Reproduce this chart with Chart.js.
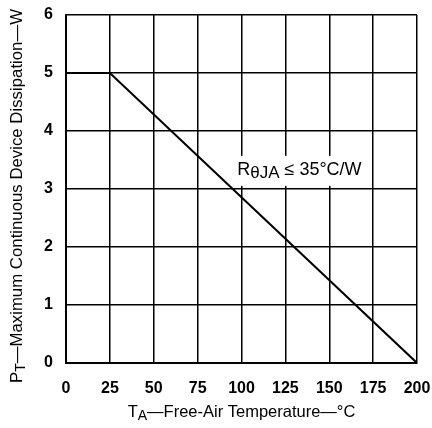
<!DOCTYPE html>
<html>
<head>
<meta charset="utf-8">
<script src="https://cdn.jsdelivr.net/npm/chart.js@4.4.1/dist/chart.umd.min.js"></script>
<style>
  html, body { margin: 0; padding: 0; background: #fff; }
  #wrap { width: 432px; height: 428px; }
</style>
</head>
<body>
<div id="wrap"><canvas id="myChart"></canvas></div>
<script>
// data
const tempC = [0, 25, 200];
const powerW = [5, 5, 0];
const xTicks = [0, 25, 50, 75, 100, 125, 150, 175, 200];
const yTicks = [0, 1, 2, 3, 4, 5, 6];

const FONT = "'Liberation Sans', Arial, sans-serif";

// draw text with a subscript part: parts = [[text, isSub], ...]
function drawParts(ctx, parts, size, x, y, align, subScale, subShift) {
  const subSize = Math.round(size * subScale);
  let total = partsWidth(ctx, parts, size, subScale);
  let cx = align === "center" ? x - total / 2 : x;
  parts.forEach(([t, sub]) => {
    ctx.font = `${sub ? subSize : size}px ${FONT}`;
    ctx.fillText(t, cx, sub ? y + subShift : y);
    cx += ctx.measureText(t).width;
  });
  return total;
}

function partsWidth(ctx, parts, size, subScale) {
  let w = 0;
  parts.forEach(([t, sub]) => {
    ctx.font = `${sub ? Math.round(size * subScale) : size}px ${FONT}`;
    w += ctx.measureText(t).width;
  });
  return w;
}

const labelsPlugin = {
  id: "labels",
  afterDraw(c) {
    const { ctx, chartArea, scales } = c;
    ctx.save();
    ctx.textBaseline = "middle";

    // annotation with white box behind it
    const ax = scales.x.getPixelForValue(133);
    const ay = scales.y.getPixelForValue(3.33);
    const parts = [["R", false], ["θJA", true], [" ≤ 35°C/W", false]];
    const w = partsWidth(ctx, parts, 18, 0.92);
    ctx.fillStyle = "#fff";
    ctx.fillRect(ax - w / 2 - 4, ay - 14, w + 8, 30);
    ctx.fillStyle = "#000";
    drawParts(ctx, parts, 18, ax, ay, "center", 0.92, 3);

    // x title
    const midX = (chartArea.left + chartArea.right) / 2;
    drawParts(ctx, [["T", false], ["A", true], ["—Free-Air Temperature—°C", false]], 16.5, midX, 412, "center", 0.85, 4);

    // y title, rotated
    ctx.translate(17, 196);
    ctx.rotate(-Math.PI / 2);
    drawParts(ctx, [["P", false], ["T", true], ["—Maximum Continuous Device Dissipation—W", false]], 16.8, 0, 0, "center", 0.85, 4);
    ctx.restore();
  }
};

new Chart(document.getElementById("myChart"), {
  type: "line",
  data: {
    datasets: [{
      data: tempC.map((t, i) => ({ x: t, y: powerW[i] })),
      borderColor: "#000",
      borderWidth: 2,
      pointRadius: 0,
      tension: 0,
      fill: false,
    }],
  },
  options: {
    responsive: true,
    maintainAspectRatio: false,
    animation: false,
    layout: { padding: { top: 15, right: 15, left: 0, bottom: 0 } },
    plugins: { legend: { display: false }, tooltip: { enabled: false } },
    scales: {
      x: {
        type: "linear",
        min: 0,
        max: 200,
        afterBuildTicks: (s) => { s.ticks = xTicks.map((v) => ({ value: v })); },
        afterFit: (s) => { s.height = 65; s.paddingLeft = 0; s.paddingRight = 0; },
        grid: { color: "#000", lineWidth: 1.5, drawTicks: false },
        border: { color: "#000", width: 2 },
        ticks: { color: "#000", padding: 16, font: { family: FONT, size: 16, weight: "bold" } },
      },
      y: {
        min: 0,
        max: 6,
        afterBuildTicks: (s) => { s.ticks = yTicks.map((v) => ({ value: v })); },
        afterFit: (s) => { s.width = 66; s.paddingTop = 0; s.paddingBottom = 0; },
        grid: { color: "#000", lineWidth: 1.5, drawTicks: false },
        border: { color: "#000", width: 2 },
        ticks: { color: "#000", padding: 13, font: { family: FONT, size: 16, weight: "bold" } },
      },
    },
  },
  plugins: [labelsPlugin],
});
</script>
</body>
</html>
